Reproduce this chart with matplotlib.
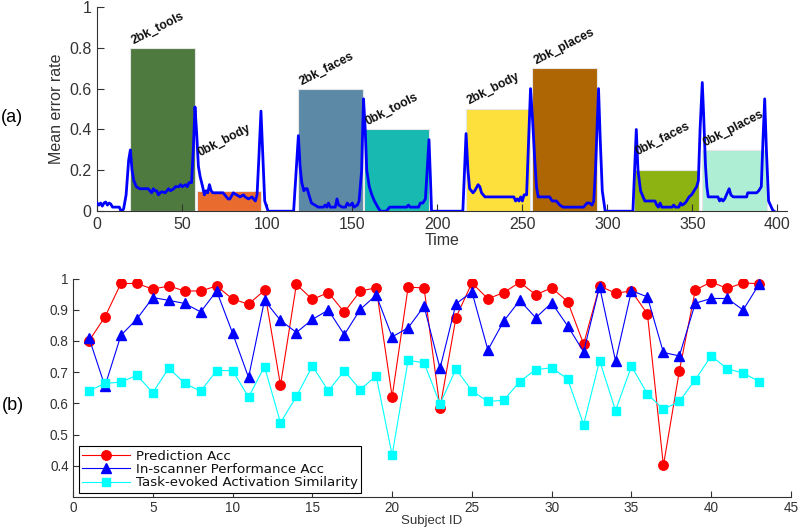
import matplotlib
matplotlib.use("Agg")
import matplotlib.pyplot as plt
import numpy as np

plt.rcParams['font.family'] = ['Liberation Sans', 'DejaVu Sans']

# ---------------- Panel (a) data ----------------
block_names = ["2bk_tools", "0bk_body", "2bk_faces", "0bk_tools",
               "2bk_body", "2bk_places", "0bk_faces", "0bk_places"]
block_start = [19.2, 58.5, 117.9, 157.0, 216.7, 255.9, 315.7, 355.5]
block_end = [57.5, 96.4, 156.1, 195.3, 254.6, 294.0, 353.9, 393.7]
block_error = [0.8, 0.1, 0.6, 0.4, 0.5, 0.7, 0.2, 0.3]
block_colors = ["#4E7A40", "#E96B2E", "#5B89A6", "#17B9B1",
                "#FDE03C", "#AE6503", "#8DB312", "#AEEED4"]
label_y = [0.80, 0.25, 0.60, 0.405, 0.505, 0.70, 0.26, 0.30]

time_pts = [0, 1, 2, 3, 4, 5, 6, 7, 8, 9, 10, 13, 14, 15.5, 17, 18.5, 19.5, 20.5, 21.5, 23,
            25, 28, 30, 31, 32, 33, 34, 35, 36, 37, 38, 40, 41, 42, 43, 45, 46, 48, 49, 50,
            52, 53, 54, 55.5, 56.5, 57.5, 58.5, 59.5, 60.5, 62, 63, 64, 65, 66, 67, 68, 70,
            72, 74, 76, 77, 78, 80, 82, 84, 86, 87, 89, 91, 92, 93, 94, 95, 96.3, 97.5, 98.5,
            100.5, 115.5, 117, 118.3, 119.3, 120.3, 121.5, 122.5, 123.5, 124.5, 126, 128, 130,
            133, 134, 135, 136, 137, 140, 141, 142, 144, 146, 147, 148, 149, 150, 151, 153,
            154, 155.5, 156.6, 157.6, 158.5, 160, 161.5, 163, 165, 166.5, 170, 172, 182, 183,
            184, 189, 190, 191.5, 193, 194, 195.1, 196, 196.6, 215, 216, 216.9, 218, 219, 220,
            221, 222, 224, 225, 226, 227, 228, 245, 246, 247, 248, 249, 250, 251, 252.5, 253.5,
            254.8, 256, 257.3, 258.3, 259.3, 266, 267.5, 270, 272, 274, 286, 287, 288, 289.5,
            291, 292, 293, 294.8, 295.8, 297, 298.7, 315, 316, 317, 318, 319.5, 321, 322, 328,
            329, 330, 331, 332, 338, 339, 340, 342, 343, 344, 345.7, 346.6, 348, 349.5, 351,
            352.5, 353.5, 354.5, 355.8, 356.7, 357.7, 358.5, 359.3, 365, 366, 367, 368, 369,
            370, 371.6, 372.6, 374, 381.9, 382.5, 387.8, 389, 390.5, 391.5, 392.5, 393.5,
            394.8, 396.4, 397.5, 398]
error_pts = [0.04, 0.03, 0.04, 0.025, 0.04, 0.045, 0.03, 0.04, 0.035, 0.02, 0.02, 0.02, 0.0,
             0.01, 0.08, 0.25, 0.30, 0.20, 0.15, 0.12,
             0.11, 0.11, 0.11, 0.10, 0.09, 0.11, 0.10, 0.10, 0.08, 0.09, 0.095, 0.09, 0.10,
             0.11, 0.10, 0.11, 0.12, 0.12, 0.13, 0.12,
             0.13, 0.12, 0.14, 0.14, 0.30, 0.51, 0.38, 0.22, 0.17, 0.12, 0.08, 0.10, 0.09,
             0.13, 0.10, 0.09, 0.09,
             0.09, 0.09, 0.07, 0.06, 0.06, 0.09, 0.08, 0.07, 0.08, 0.07, 0.06, 0.07, 0.06,
             0.05, 0.08, 0.25, 0.49, 0.25, 0.05,
             0.0, 0.0, 0.2, 0.37, 0.22, 0.14, 0.10, 0.11, 0.11, 0.08, 0.04, 0.03, 0.02,
             0.02, 0.03, 0.02, 0.04, 0.02, 0.02, 0.06, 0.03, 0.02, 0.02, 0.04, 0.03, 0.03,
             0.04, 0.02, 0.03,
             0.05, 0.20, 0.55, 0.40, 0.20, 0.12, 0.08, 0.05, 0.02, 0.0, 0.0, 0.02, 0.02,
             0.03,
             0.02, 0.02, 0.04, 0.04, 0.06, 0.2, 0.35, 0.15, 0.0, 0.0, 0.2, 0.38, 0.2, 0.11,
             0.10,
             0.09, 0.10, 0.13, 0.12, 0.09, 0.08, 0.07, 0.07, 0.05, 0.06, 0.05, 0.07, 0.05,
             0.08, 0.08, 0.30,
             0.60, 0.45, 0.25, 0.12, 0.07, 0.07, 0.05, 0.05, 0.03, 0.02, 0.02, 0.03, 0.04,
             0.04,
             0.03, 0.05, 0.2, 0.60, 0.35, 0.1, 0.0, 0.0, 0.2, 0.40, 0.2, 0.10, 0.07, 0.05,
             0.05,
             0.03, 0.02, 0.04, 0.02, 0.02, 0.03, 0.02, 0.02, 0.04, 0.03, 0.04, 0.05, 0.07,
             0.08, 0.10,
             0.12, 0.15, 0.4, 0.63, 0.45, 0.22, 0.12, 0.07, 0.07, 0.05, 0.06, 0.05, 0.06,
             0.08, 0.11, 0.08, 0.07, 0.07, 0.09, 0.09, 0.10, 0.12, 0.35, 0.55, 0.3,
             0.05, 0.02, 0.0, 0.0]

# ---------------- Panel (b) data ----------------
subject_id = list(range(1, 44))
prediction_acc = [0.80, 0.877, 0.984, 0.984, 0.966, 0.976, 0.960, 0.960, 0.976, 0.934,
                  0.918, 0.962, 0.658, 0.981, 0.933, 0.955, 0.892, 0.960, 0.970, 0.621,
                  0.972, 0.970, 0.585, 0.875, 0.986, 0.935, 0.955, 0.988, 0.948, 0.970,
                  0.926, 0.790, 0.976, 0.953, 0.960, 0.886, 0.401, 0.704, 0.963, 0.989,
                  0.968, 0.986, 0.983]
inscanner_acc = [0.810, 0.655, 0.818, 0.870, 0.939, 0.930, 0.920, 0.893, 0.960, 0.825,
                 0.683, 0.930, 0.866, 0.827, 0.869, 0.899, 0.820, 0.901, 0.947, 0.813,
                 0.842, 0.911, 0.712, 0.919, 0.957, 0.771, 0.864, 0.930, 0.874, 0.922,
                 0.848, 0.765, 0.974, 0.736, 0.961, 0.941, 0.763, 0.752, 0.921, 0.936,
                 0.936, 0.899, 0.982]
activation_sim = [0.640, 0.664, 0.668, 0.690, 0.634, 0.713, 0.664, 0.639, 0.705, 0.705,
                  0.620, 0.718, 0.538, 0.622, 0.720, 0.640, 0.704, 0.644, 0.688, 0.434,
                  0.738, 0.730, 0.598, 0.710, 0.640, 0.606, 0.610, 0.670, 0.708, 0.714,
                  0.678, 0.532, 0.737, 0.577, 0.719, 0.630, 0.581, 0.606, 0.676, 0.752,
                  0.711, 0.697, 0.670]

axis_col = "#333333"

fig = plt.figure(figsize=(8.0, 5.32), dpi=100)

# ---------------- Panel (a) ----------------
ax1 = fig.add_axes([0.1215, 0.603, 0.862, 0.384])
widths = [e - s for s, e in zip(block_start, block_end)]
ax1.bar(block_start, block_error, width=widths, align='edge', color=block_colors,
        edgecolor="#e6e6e6", linewidth=0.8, zorder=1)
ax1.plot(time_pts, error_pts, color="#0000FF", lw=2.0, zorder=3)
for name, s, ly in zip(block_names, block_start, label_y):
    ax1.text(s + 3.0, ly + 0.004, name, rotation=27, rotation_mode='anchor',
             ha='left', va='bottom', fontsize=8.8, fontweight='bold', color='#111111',
             zorder=4)
ax1.set_xlim(0, 405.5)
ax1.set_ylim(0, 1)
ax1.set_xticks([0, 50, 100, 150, 200, 250, 300, 350, 400])
ax1.set_yticks([0, 0.2, 0.4, 0.6, 0.8, 1.0])
ax1.set_yticklabels(["0", "0.2", "0.4", "0.6", "0.8", "1"])
ax1.set_xlabel("Time", fontsize=11.5, color=axis_col, labelpad=1)
ax1.set_ylabel("Mean error rate", fontsize=11.5, color=axis_col, labelpad=4)
ax1.spines['top'].set_visible(False)
ax1.spines['right'].set_visible(False)
for sp in ['left', 'bottom']:
    ax1.spines[sp].set_color(axis_col)
    ax1.spines[sp].set_linewidth(0.8)
ax1.tick_params(direction='in', length=5, width=0.8, labelsize=11.5, colors=axis_col,
                labelcolor=axis_col, pad=4)

# ---------------- Panel (b) ----------------
ax2 = fig.add_axes([0.0913, 0.0658, 0.8975, 0.4107])
ax2.plot(subject_id, prediction_acc, '-o', color="#FF0000", lw=0.8, ms=6.8,
         label="Prediction Acc")
ax2.plot(subject_id, inscanner_acc, '-^', color="#0000FF", lw=0.8, ms=6.8,
         label="In-scanner Performance Acc")
ax2.plot(subject_id, activation_sim, '-s', color="#00FFFF", lw=0.8, ms=5.2,
         label="Task-evoked Activation Similarity")
ax2.set_xlim(0, 45)
ax2.set_ylim(0.3, 1.0)
ax2.set_xticks(range(0, 46, 5))
ax2.set_yticks([0.4, 0.5, 0.6, 0.7, 0.8, 0.9, 1.0])
ax2.set_yticklabels(["0.4", "0.5", "0.6", "0.7", "0.8", "0.9", "1"])
ax2.set_xlabel("Subject ID", fontsize=9.5, color=axis_col, labelpad=0)
ax2.spines['top'].set_visible(False)
ax2.spines['right'].set_visible(False)
for sp in ['left', 'bottom']:
    ax2.spines[sp].set_color(axis_col)
    ax2.spines[sp].set_linewidth(0.8)
ax2.tick_params(direction='in', length=4, width=0.8, labelsize=9.8, colors=axis_col,
                labelcolor=axis_col, pad=3)
leg = ax2.legend(loc='lower left', bbox_to_anchor=(0.008, 0.02), borderaxespad=0,
                 prop={'family': 'DejaVu Sans', 'size': 9.6},
                 frameon=True, fancybox=False, framealpha=1,
                 edgecolor='black', handlelength=3.6, handletextpad=0.45,
                 labelspacing=0.02, borderpad=0.25)
leg.get_frame().set_linewidth(0.8)
for t in leg.get_texts():
    t.set_color('#111111')

fig.text(12 / 800, 1 - 118 / 532, "(a)", fontsize=13, ha='center', va='center', color='black')
fig.text(13 / 800, 1 - 405 / 532, "(b)", fontsize=13, ha='center', va='center', color='black')

fig.savefig("out.png", dpi=100)
